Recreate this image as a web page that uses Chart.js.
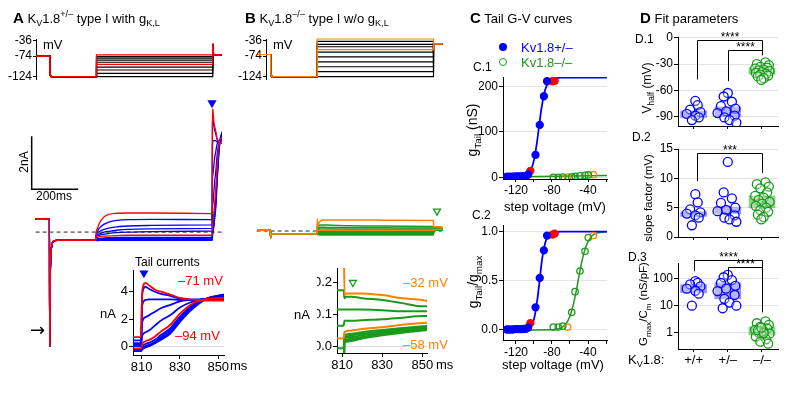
<!DOCTYPE html>
<html>
<head>
<meta charset="utf-8">
<script src="https://cdn.jsdelivr.net/npm/chart.js@4.4.1/dist/chart.umd.min.js"></script>
<style>
  body { margin: 0; background: #fff; }
  #fig { position: relative; width: 800px; height: 396px; overflow: hidden; font-family: 'Liberation Sans', Arial, sans-serif; color: #000; }
  #fig canvas { position: absolute; }
  .t { position: absolute; white-space: nowrap; line-height: 1; }
  .t sub, .t sup { font-size: 70%; line-height: 0; }
</style>
</head>
<body>
<div id="fig"></div>
<script>
// ---- A: Kv1.8+/- voltage steps (mV) and currents (nA) ----
const stepsA = [-124, -116, -108, -101, -94, -89, -84, -79, -75, -71];
const hotA = [-94, -71];
const tProtA = [50, 110, 110.6, 112, 115, 310, 310.2, 810, 810.2, 812, 816, 850];
const protHeadA = [-74, -74, -115, -122, -124, -124];
const protTailA = [-44, -66, -71, -71];

const tPreA = [50, 109.6, 110.4, 112, 115, 120, 130, 160, 308];
const iPreA = [0.5, 0.5, -4.3, -2.2, -1.0, -0.5, -0.32, -0.3, -0.3];
const tStepA = [310, 311, 314, 320, 330, 345, 365, 400, 450, 550, 808];
const iStepA = [
  [-0.3, -0.32, -0.32, -0.32, -0.31, -0.31, -0.31, -0.31, -0.31, -0.31, -0.31],
  [-0.3, -0.3, -0.3, -0.29, -0.29, -0.28, -0.28, -0.28, -0.28, -0.28, -0.28],
  [-0.3, -0.28, -0.28, -0.27, -0.26, -0.25, -0.25, -0.25, -0.25, -0.25, -0.25],
  [-0.3, -0.25, -0.25, -0.24, -0.23, -0.22, -0.21, -0.2, -0.2, -0.2, -0.2],
  [-0.3, -0.2, -0.2, -0.18, -0.16, -0.15, -0.14, -0.13, -0.12, -0.12, -0.12],
  [-0.3, -0.15, -0.15, -0.13, -0.1, -0.08, -0.05, -0.02, 0.0, 0.02, 0.04],
  [-0.3, -0.1, -0.1, -0.08, -0.05, 0.0, 0.03, 0.07, 0.1, 0.12, 0.14],
  [-0.3, -0.05, -0.05, 0.0, 0.05, 0.1, 0.15, 0.2, 0.23, 0.25, 0.27],
  [-0.3, 0.0, 0.0, 0.1, 0.2, 0.3, 0.38, 0.44, 0.47, 0.48, 0.47],
  [-0.3, 0.1, 0.1, 0.25, 0.42, 0.58, 0.67, 0.71, 0.72, 0.72, 0.7]
];
const tTailA = [809.7, 810.3, 812, 814, 817, 820, 825, 830, 835, 840, 845, 853];
const iTailA = [
  [-0.31, -0.2, -0.05, 0.05, 0.25, 0.5, 0.95, 1.8, 2.55, 3.15, 3.55, 3.8],
  [-0.28, -0.15, 0.0, 0.1, 0.3, 0.6, 1.05, 1.9, 2.65, 3.2, 3.55, 3.75],
  [-0.25, -0.1, 0.05, 0.15, 0.35, 0.7, 1.2, 2.05, 2.75, 3.25, 3.55, 3.7],
  [-0.2, 0.0, 0.2, 0.3, 0.5, 0.85, 1.35, 2.2, 2.85, 3.3, 3.5, 3.65],
  [-0.12, 0.2, 0.4, 0.5, 0.75, 1.1, 1.6, 2.4, 3.0, 3.35, 3.5, 3.55],
  [0.04, 0.8, 1.05, 1.2, 1.55, 1.9, 2.3, 2.85, 3.2, 3.4, 3.5, 3.55],
  [0.14, 1.8, 2.15, 2.3, 2.55, 2.8, 3.05, 3.3, 3.4, 3.45, 3.5, 3.5],
  [0.27, 3.0, 3.4, 3.45, 3.45, 3.45, 3.45, 3.4, 3.4, 3.4, 3.45, 3.45],
  [0.47, 3.8, 4.35, 4.2, 4.0, 3.85, 3.7, 3.5, 3.45, 3.4, 3.4, 3.4],
  [0.7, 4.0, 4.65, 4.45, 4.15, 4.0, 3.8, 3.55, 3.45, 3.4, 3.35, 3.35]
];

// ---- B: Kv1.8-/- ----
const stepsB = [-124, -112, -100, -88, -76, -64, -58, -51, -45, -38, -32];
const hotB = [-58, -32];
const tProtB = [55, 110, 110.6, 112, 115, 310, 310.2, 810, 810.2, 850];
const protHeadB = [-70, -70, -115, -122, -124, -124];
const protTailB = [-44, -44];

const tPreB = [55, 109.6, 110.4, 112, 116, 125, 308];
const iPreB = [0.03, 0.03, -0.25, -0.15, -0.11, -0.1, -0.1];
const tStepB = [310, 311, 313, 318, 325, 340, 370, 450, 600, 808];
const iStepB = [
  [-0.1, -0.12, -0.13, -0.14, -0.15, -0.15, -0.15, -0.15, -0.15, -0.15],
  [-0.1, -0.1, -0.11, -0.12, -0.12, -0.12, -0.12, -0.12, -0.12, -0.12],
  [-0.1, -0.08, -0.08, -0.09, -0.09, -0.09, -0.09, -0.09, -0.09, -0.09],
  [-0.1, -0.05, -0.05, -0.06, -0.06, -0.06, -0.06, -0.06, -0.06, -0.06],
  [-0.1, -0.02, -0.02, -0.03, -0.03, -0.03, -0.03, -0.03, -0.03, -0.03],
  [-0.1, 0.0, 0.0, 0.0, 0.0, -0.005, -0.005, -0.005, -0.005, -0.005],
  [-0.1, 0.05, 0.03, 0.03, 0.03, 0.03, 0.03, 0.028, 0.026, 0.025],
  [-0.1, 0.1, 0.05, 0.07, 0.08, 0.08, 0.075, 0.07, 0.068, 0.065],
  [-0.1, 0.15, 0.08, 0.12, 0.14, 0.14, 0.13, 0.125, 0.12, 0.115],
  [-0.1, 0.25, 0.1, 0.2, 0.23, 0.23, 0.22, 0.2, 0.19, 0.175],
  [-0.1, 0.45, 0.15, 0.3, 0.38, 0.42, 0.42, 0.42, 0.41, 0.4]
];
const tTailB = [810.8, 811.2, 812, 815, 820, 830, 840, 850, 853];
const iTailB = [
  [-0.15, 0.01, 0.015, 0.018, 0.025, 0.035, 0.043, 0.05, 0.053],
  [-0.12, 0.015, 0.018, 0.022, 0.028, 0.038, 0.046, 0.052, 0.055],
  [-0.09, 0.02, 0.022, 0.025, 0.03, 0.04, 0.047, 0.054, 0.057],
  [-0.06, 0.025, 0.028, 0.03, 0.035, 0.043, 0.05, 0.057, 0.06],
  [-0.03, 0.03, 0.032, 0.035, 0.04, 0.047, 0.054, 0.06, 0.062],
  [-0.005, 0.035, 0.038, 0.04, 0.045, 0.052, 0.058, 0.063, 0.065],
  [0.025, 0.045, 0.048, 0.05, 0.055, 0.06, 0.068, 0.073, 0.075],
  [0.065, 0.08, 0.08, 0.08, 0.082, 0.085, 0.09, 0.095, 0.095],
  [0.115, 0.115, 0.115, 0.115, 0.115, 0.113, 0.11, 0.11, 0.11],
  [0.175, 0.15, 0.155, 0.155, 0.15, 0.145, 0.135, 0.125, 0.125],
  [0.4, 0.16, 0.165, 0.165, 0.165, 0.16, 0.15, 0.145, 0.14]
];

// ---- C: tail G-V ----
const cBlueV = [-130, -127, -124, -121, -118, -115, -112, -109, -106.5, -98.3, -93.6, -89, -85.5];
const cBlueG = [1.5, 1.5, 1.5, 2, 2, 2, 2.5, 3, 6, 49, 115, 178, 211];
const cBlueN = [0.005, 0.005, 0.005, 0.008, 0.008, 0.008, 0.01, 0.012, 0.025, 0.23, 0.53, 0.81, 0.96];
const cRedV = [-104, -79.5, -77];
const cRedG = [14, 211, 212];
const cRedN = [0.07, 0.97, 0.98];
const cGreenV = [-78.5, -73, -68, -58.1, -54.4, -48.9, -43.3, -39.7];
const cGreenG = [0, 0, 0.3, 1, 2, 3, 4, 5];
const cGreenN = [0.03, 0.03, 0.04, 0.18, 0.39, 0.6, 0.8, 0.94];
const cOrangeV = [-62.6, -34];
const cOrangeG = [0.2, 5.5];
const cOrangeN = [0.03, 0.96];
const fitBlueV = [-134, -115, -110, -106, -103, -100, -97, -94.5, -92, -89, -86, -83, -80, -76, -70, -19];
const fitBlueG = [0, 0.6, 2.6, 7.9, 17.7, 37.7, 72, 109.5, 147, 181, 201, 211, 215.6, 217.9, 218.8, 219];
const fitBlueNV = [-134, -112, -106, -103, -100, -97, -94, -91, -88, -85, -82, -78, -70, -19];
const fitBlueN = [0, 0.002, 0.017, 0.044, 0.11, 0.26, 0.48, 0.72, 0.87, 0.95, 0.98, 0.995, 1, 1];
const fitGreenV = [-134, -80, -70, -65, -62, -59, -56, -53, -50, -47, -44, -41, -38, -34, -28, -19];
const fitGreenN = [0, 0.003, 0.022, 0.057, 0.1, 0.168, 0.27, 0.4, 0.55, 0.69, 0.8, 0.88, 0.93, 0.97, 0.99, 1];
const fitGreenGV = [-134, -19];
const fitGreenG = [0.5, 4];

// ---- D: fit parameters ----
const dCats = ['+/+', '+/–', '–/–'];
const vhWT = [-72, -77, -82, -85, -87, -89, -91, -94];
const vhHet = [-63, -67, -73, -78, -81, -84, -86, -89, -91, -94, -97];
const vhKO = [-28, -30, -31, -33, -34, -35, -36, -37, -38, -39, -40, -41, -42, -43, -44, -46, -48];
const vhBox = [[-91, -83.6], [-90, -79], [-41.4, -34.2]];
const kWT = [7.3, 5.9, 4.7, 4.2, 4.0, 3.7, 3.3, 2.0];
const kHet = [12.8, 7.6, 6.6, 5.8, 5.0, 4.6, 4.4, 3.7, 3.3, 3.0, 2.6];
const kKO = [9.3, 9.0, 8.6, 8.3, 7.6, 7.0, 6.7, 6.3, 6.0, 5.7, 5.3, 5.0, 4.6, 4.3, 3.8, 3.4, 3.0];
const kBox = [[3.5, 4.3], [4.0, 5.1], [5.0, 7.0]];
const gWT = [82, 71, 62, 52, 43, 36, 28, 10];
const gHet = [140, 115, 90, 70, 55, 43, 35, 25, 18, 13, 10, 8];
const gKO = [2.6, 2.2, 1.9, 1.6, 1.4, 1.25, 1.1, 1.0, 0.9, 0.8, 0.7, 0.55, 0.45, 0.38, 1.2, 0.95, 1.5];
const gBox = [[30, 61], [18, 71], [0.8, 1.6]];
// horizontal spread of the dots inside each group
const jitWT = [0.05, 0.12, -0.1, 0.2, -0.2, 0.05, 0.15, -0.05];
const jitHet = [0, -0.12, 0.12, -0.2, 0.22, -0.05, -0.3, 0.2, -0.1, 0.05, 0.25, -0.15];
const jitKO = [0.1, -0.15, 0.2, -0.05, 0.15, -0.2, 0.05, -0.1, 0.22, 0, -0.18, 0.12, -0.05, 0.18, -0.12, 0.05, -0.02];
// brackets: x1, x2, top, left foot, right foot, stars
const sigD1 = [[1.1, 3, -1.8, -47.5, -19.7, '****'], [2, 3, -13.2, -49.4, -19.7, '****']];
const sigD2 = [[1.1, 3, 14.4, 9.5, 10.9, '***']];
const sigD3 = [[1, 3, 518, 192, 5.65, '****'], [2, 3, 277, 133, 5.65, '****']];

const BLUE = '#0000ff', RED = '#ff0000', GREEN = '#1a9a1a', ORANGE = '#ff8000';
const fig = document.getElementById('fig');
Chart.defaults.font.family = "'Liberation Sans', Arial, sans-serif";
Chart.defaults.color = '#000';

function pts(xs, ys) { return xs.map((x, i) => ({ x, y: ys[i] })); }

// place a chart so that its plot area sits at (l, t, w, h) on the page
function chartAt(l, t, w, h, yW, xH, cfg) {
  const P = 24;
  const c = document.createElement('canvas');
  c.width = w + yW + 2 * P;
  c.height = h + xH + 2 * P;
  c.style.left = (l - yW - P) + 'px';
  c.style.top = (t - P) + 'px';
  fig.appendChild(c);
  const o = cfg.options;
  o.responsive = false;
  o.animation = false;
  o.devicePixelRatio = 1;
  o.events = [];
  o.layout = { padding: P, autoPadding: false };
  o.plugins = Object.assign({ legend: { display: false }, tooltip: { enabled: false } }, o.plugins || {});
  if (o.scales.x.display !== false) o.scales.x.afterFit = s => { s.height = xH; };
  if (o.scales.y.display !== false) o.scales.y.afterFit = s => { s.width = yW; };
  return new Chart(c, cfg);
}

function ax(min, max, ticks, fmt, size, extra) {
  return Object.assign({
    type: 'linear', min, max, offset: false,
    afterBuildTicks: s => { s.ticks = ticks.map(v => ({ value: v })); },
    ticks: { autoSkip: false, maxRotation: 0, padding: 1, font: { size: size || 12 }, color: '#000', callback: fmt || (v => String(v)) },
    grid: { drawOnChartArea: false, tickLength: 4, color: '#000', tickColor: '#000', offset: false },
    border: { display: true, color: '#000', width: 1 }
  }, extra || {});
}
const off = (min, max) => ({ type: 'linear', min, max, display: false });
const tickOnly = len => ({ drawOnChartArea: false, tickLength: len, color: '#000', tickColor: '#000', offset: false });
const softGrid = { drawOnChartArea: true, color: '#e2e2e2', tickColor: '#000', tickLength: 4, offset: false };
const zeroGrid = { drawOnChartArea: true, color: c => (c.tick && c.tick.value === 0 ? '#d8d8d8' : 'rgba(0,0,0,0)'), tickColor: '#000', tickLength: 4 };

function line(data, color, width, extra) {
  return Object.assign({ type: 'scatter', showLine: true, data, borderColor: color, borderWidth: width,
    pointRadius: 0, cubicInterpolationMode: 'monotone', fill: false }, extra || {});
}
function dots(data, color, fill, r, extra) {
  return Object.assign({ type: 'scatter', data, showLine: false, pointRadius: r, pointBorderColor: color,
    pointBackgroundColor: fill, pointBorderWidth: 1.3 }, extra || {});
}
function traceSets(steps, hot, tP, iP, tS, iS, tT, iT, cHot, cCold, w) {
  return steps.map((s, k) => line(pts(tP.concat(tS, tT), iP.concat(iS[k], iT[k])),
    hot.includes(s) ? cHot : cCold, w, { order: hot.includes(s) ? 0 : 1 }));
}
function protoSets(steps, hot, tP, head, tail, cHot, extra) {
  return steps.map(s => line(pts(tP, head.concat([s, s], tail)), hot.includes(s) ? cHot : '#000', 1.2,
    Object.assign({ cubicInterpolationMode: 'default', tension: 0, order: hot.includes(s) ? 0 : 1 }, extra || {})));
}
function group(vals, base, jit) { return vals.map((v, i) => ({ x: base + jit[i], y: v })); }

const brackets = {
  id: 'brackets',
  afterDatasetsDraw(chart, args, opts) {
    const { ctx, scales: { x, y } } = chart;
    ctx.save();
    ctx.strokeStyle = '#000'; ctx.fillStyle = '#000'; ctx.lineWidth = 1;
    ctx.font = "12px 'Liberation Sans', Arial, sans-serif";
    ctx.textAlign = 'center'; ctx.textBaseline = 'bottom';
    for (const [x1, x2, top, f1, f2, stars] of opts.list || []) {
      const X1 = Math.round(x.getPixelForValue(x1)) + 0.5, X2 = Math.round(x.getPixelForValue(x2)) + 0.5;
      const T = Math.round(y.getPixelForValue(top)) + 0.5;
      ctx.beginPath();
      ctx.moveTo(X1, y.getPixelForValue(f1)); ctx.lineTo(X1, T); ctx.lineTo(X2, T); ctx.lineTo(X2, y.getPixelForValue(f2));
      ctx.stroke();
      ctx.fillText(stars, (X1 + X2) / 2, T + 3);
    }
    ctx.restore();
  }
};

// ---------- A ----------
chartAt(36, 38.6, 186, 40.6, 32, 0, {
  type: 'scatter',
  data: { datasets: protoSets(stepsA, hotA, tProtA, protHeadA, protTailA, RED) },
  options: { scales: { x: off(50, 850), y: ax(-130, -32, [-124, -74, -36], null, 12, { grid: tickOnly(3) }) } }
});
chartAt(24, 94, 198, 260, 0, 0, {
  type: 'scatter',
  data: { datasets: traceSets(stepsA, hotA, tPreA, iPreA, tStepA, iStepA, tTailA, iTailA, RED, BLUE, 1.3).concat([
    line(pts([50, 850], [0, 0]), '#222', 1, { borderDash: [4, 3], order: -1 }),
    line(pts([33, 33, 233], [3.62, 1.62, 1.62]), '#000', 1.5, { cubicInterpolationMode: 'default', tension: 0 }),
    dots([{ x: 808.6, y: 4.87 }], BLUE, BLUE, 4, { pointStyle: 'triangle', rotation: 180, order: -2 })
  ]) },
  options: { scales: { x: off(0, 851.6), y: off(-4.6, 5.21) } }
});
chartAt(133, 270, 91, 85, 20, 17, {
  type: 'scatter',
  data: { datasets: traceSets(stepsA, hotA, tPreA, iPreA, tStepA, iStepA, tTailA, iTailA, RED, BLUE, 1.8).concat([
    dots([{ x: 811.2, y: 5.36 }], BLUE, BLUE, 4, { pointStyle: 'triangle', rotation: 180 })
  ]) },
  options: { scales: {
    x: ax(805.5, 853, [810, 830, 850], null, 13, { grid: tickOnly(4) }),
    y: ax(-0.6, 5.58, [0, 2, 4], null, 13, { grid: zeroGrid })
  } }
});

// ---------- B ----------
chartAt(266, 38.6, 177, 40.6, 32, 0, {
  type: 'scatter',
  data: { datasets: protoSets(stepsB, hotB, tProtB, protHeadB, protTailB, ORANGE, { clip: false }) },
  options: { scales: { x: off(90, 851), y: ax(-130, -32, [-124, -74, -36], null, 12, { grid: tickOnly(3) }) } }
});
chartAt(245, 94, 198, 260, 0, 0, {
  type: 'scatter',
  data: { datasets: traceSets(stepsB, hotB, tPreB, iPreB, tStepB, iStepB, tTailB, iTailB, ORANGE, GREEN, 1.5).concat([
    line(pts([50, 846], [0, 0]), '#222', 1, { borderDash: [4, 3], order: 2 }),
    dots([{ x: 825.8, y: 0.75 }], GREEN, '#fff', 4, { pointStyle: 'triangle', rotation: 180 })
  ]) },
  options: { scales: { x: off(0, 851.6), y: off(-4.64, 5.17) } }
});
chartAt(337, 268.3, 90.7, 85.7, 20, 17, {
  type: 'scatter',
  data: { datasets: traceSets(stepsB, hotB, tPreB, iPreB, tStepB, iStepB, tTailB, iTailB, ORANGE, GREEN, 2).concat([
    dots([{ x: 815.4, y: 0.199 }], GREEN, '#fff', 4, { pointStyle: 'triangle', rotation: 180 })
  ]) },
  options: { scales: {
    x: ax(807.5, 852.3, [810, 830, 850], null, 13, { grid: tickOnly(4) }),
    y: ax(-0.0197, 0.244, [0, 0.1, 0.2], v => v.toFixed(1), 13, { grid: zeroGrid })
  } }
});

// ---------- C ----------
const cTicks = [-120, -100, -80, -60, -40, -20];
const cFmt = v => ([-120, -80, -40].includes(v) ? String(v) : '');
chartAt(503, 76.7, 104, 102.8, 24, 16, {
  type: 'scatter',
  data: { datasets: [
    line(pts(fitBlueV, fitBlueG), BLUE, 1.8, { order: 3 }),
    line(pts(fitGreenGV, fitGreenG), GREEN, 1.5, { order: 3 }),
    dots(pts(cBlueV, cBlueG), BLUE, BLUE, 3.5, { order: 1 }),
    dots(pts(cRedV, cRedG), RED, RED, 3.5, { order: 2 }),
    dots(pts(cGreenV, cGreenG), GREEN, 'rgba(255,255,255,0)', 3.2, { order: 1 }),
    dots(pts(cOrangeV, cOrangeG), ORANGE, 'rgba(255,255,255,0)', 3.2, { order: 1 })
  ] },
  options: { scales: {
    x: ax(-134.4, -18.9, cTicks, cFmt, 12, { grid: tickOnly(3) }),
    y: ax(-3.9, 220.3, [0, 100, 200], null, 12, { grid: softGrid })
  } }
});
chartAt(503, 225, 104, 115, 24, 16, {
  type: 'scatter',
  data: { datasets: [
    line(pts(fitBlueNV, fitBlueN), BLUE, 1.8, { order: 3 }),
    line(pts(fitGreenV, fitGreenN), GREEN, 1.5, { order: 3 }),
    dots(pts(cBlueV, cBlueN), BLUE, BLUE, 3.5, { order: 1 }),
    dots(pts(cRedV, cRedN), RED, RED, 3.5, { order: 2 }),
    dots(pts(cGreenV, cGreenN), GREEN, 'rgba(255,255,255,0)', 3.2, { order: 1 }),
    dots(pts(cOrangeV, cOrangeN), ORANGE, 'rgba(255,255,255,0)', 3.2, { order: 1 })
  ] },
  options: { scales: {
    x: ax(-134.4, -18.9, cTicks, cFmt, 12, { grid: tickOnly(4) }),
    y: ax(-0.102, 1.068, [0, 0.5, 1], v => v.toFixed(1), 12, { grid: softGrid })
  } }
});

// ---------- D ----------
const BOX_B = 'rgba(80,80,240,0.6)', BOX_G = 'rgba(50,165,50,0.55)';
const DGREEN = '#129a12';
const DOT_FILL = 'rgba(255,255,255,0.3)';
function dSets(wt, het, ko, box) {
  return [
    { type: 'bar', data: [1, 2, 3].map((x, i) => ({ x, y: box[i] })), backgroundColor: [BOX_B, BOX_B, BOX_G],
      barThickness: 26, borderWidth: 0, grouped: false, order: 5 },
    dots(group(wt, 1, jitWT), BLUE, DOT_FILL, 4.5, { order: 1 }),
    dots(group(het, 2, jitHet), BLUE, DOT_FILL, 4.5, { order: 1 }),
    dots(group(ko, 3, jitKO), DGREEN, DOT_FILL, 4.5, { order: 1 })
  ];
}
const dX = (labels) => ax(0.544, 3.468, [1, 2, 3], null, 13,
  { grid: tickOnly(3), ticks: { display: !!labels, autoSkip: false, maxRotation: 0, padding: 1, font: { size: 13 }, color: '#000', callback: v => dCats[Math.round(v) - 1] } });

chartAt(678, 36.7, 100, 89.3, 28, 5, {
  type: 'scatter',
  data: { datasets: dSets(vhWT, vhHet, vhKO, vhBox) },
  options: { plugins: { brackets: { list: sigD1 } },
    scales: { x: dX(false), y: ax(-100.8, 1.14, [-90, -60, -30, 0], null, 12, { grid: softGrid }) } },
  plugins: [brackets]
});
chartAt(678, 149, 100, 88.7, 28, 5, {
  type: 'scatter',
  data: { datasets: dSets(kWT, kHet, kKO, kBox) },
  options: { plugins: { brackets: { list: sigD2 } },
    scales: { x: dX(false), y: ax(0, 15, [0, 5, 10, 15], null, 12, { grid: softGrid }) } },
  plugins: [brackets]
});
chartAt(678, 263.3, 100, 86.7, 28, 18, {
  type: 'scatter',
  data: { datasets: dSets(gWT, gHet, gKO, gBox) },
  options: { plugins: { brackets: { list: sigD3 } },
    scales: { x: dX(true), y: ax(0.24, 391, [1, 10, 100], v => String(v), 12, { type: 'logarithmic', grid: softGrid }) } },
  plugins: [brackets]
});

// ---------- text ----------
function txt(html, x, y, o) {
  o = o || {};
  const d = document.createElement('div');
  d.className = 't';
  d.innerHTML = html;
  d.style.left = x + 'px';
  d.style.top = y + 'px';
  d.style.fontSize = (o.size || 12) + 'px';
  if (o.color) d.style.color = o.color;
  if (o.font) d.style.fontFamily = o.font;
  const tr = [o.center ? 'translate(-50%,-50%)' : 'translate(0,-50%)'];
  if (o.rot) tr.push('rotate(-90deg)');
  d.style.transform = tr.join(' ');
  fig.appendChild(d);
}
txt('<b style="font-size:15px">A</b> K<sub>V</sub>1.8<sup>+/–</sup> type I with g<sub>K,L</sub>', 13, 16.5, { size: 13 });
txt('<b style="font-size:15px">B</b> K<sub>V</sub>1.8<sup>–/–</sup> type I w/o g<sub>K,L</sub>', 245, 16.5, { size: 13 });
txt('<b style="font-size:15px">C</b> Tail G-V curves', 470, 16.5, { size: 13 });
txt('<b style="font-size:15px">D</b> Fit parameters', 640, 16.5, { size: 13 });
txt('mV', 43, 44, { size: 13 });
txt('mV', 273, 44, { size: 13 });
txt('2nA', 24, 162, { size: 12, center: true, rot: true });
txt('200ms', 54, 196, { size: 12, center: true });
txt('&#8594;', 37.5, 330, { size: 18, center: true, font: "'DejaVu Sans', sans-serif" });
txt('Tail currents', 135, 262, { size: 12 });
txt('–71 mV', 178, 280, { size: 13, color: RED });
txt('–94 mV', 175, 335, { size: 13, color: RED });
txt('nA', 100, 313, { size: 13 });
txt('ms', 230, 365, { size: 13 });
txt('nA', 294, 314, { size: 13 });
txt('ms', 436, 364, { size: 13 });
txt('–32 mV', 403, 282, { size: 13, color: ORANGE });
txt('–58 mV', 403, 344, { size: 13, color: ORANGE });
txt('<span style="display:inline-block;width:8px;height:8px;border-radius:50%;background:' + BLUE + '"></span>', 503, 47, { center: true });
txt('Kv1.8+/–', 521, 47, { size: 13, color: BLUE });
txt('<span style="display:inline-block;width:6px;height:6px;border-radius:50%;border:1.3px solid ' + GREEN + '"></span>', 503, 62, { center: true });
txt('Kv1.8–/–', 521, 62, { size: 13, color: GREEN });
txt('C.1', 473, 67, { size: 12 });
txt('C.2', 472, 215, { size: 12 });
txt('g<sub>Tail</sub> (nS)', 472, 130, { size: 14, center: true, rot: true });
txt('g<sub>Tail</sub>/g<sub>max</sub>', 473, 282, { size: 14, center: true, rot: true });
txt('step voltage (mV)', 555, 206, { size: 13, center: true });
txt('step voltage (mV)', 553, 364, { size: 13, center: true });
txt('D.1', 635, 39, { size: 12 });
txt('D.2', 632, 137, { size: 12 });
txt('D.3', 628, 257, { size: 12 });
txt('V<sub>half</sub> (mV)', 647, 88, { size: 12, center: true, rot: true });
txt('slope factor (mV)', 649, 198, { size: 11.5, center: true, rot: true });
txt('G<sub>max</sub>/C<sub>m</sub> (nS/pF)', 644, 304, { size: 11.5, center: true, rot: true });
txt('K<sub>V</sub>1.8:', 628, 359, { size: 13 });
</script>
</body>
</html>
